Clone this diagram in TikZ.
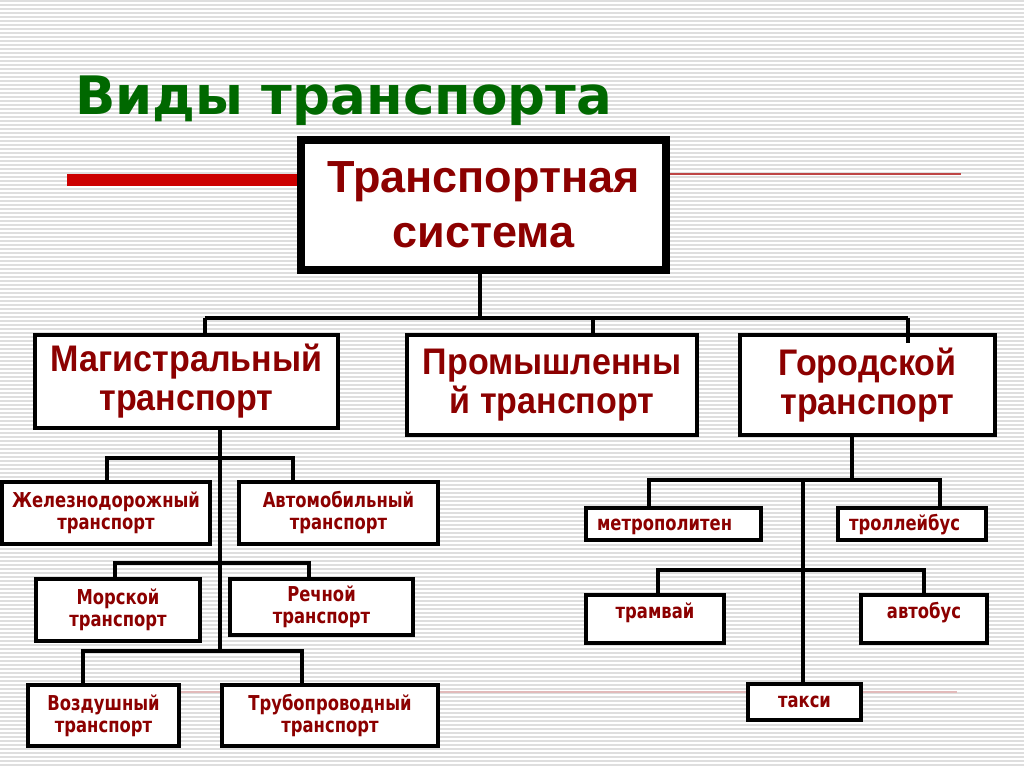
\documentclass[tikz,border=0pt]{standalone}
\usepackage{fontspec}
\setmainfont{Liberation Sans}
\newfontfamily\kindfamily[FakeStretch=0.92]{Liberation Sans}
\newfontfamily\titlefont{DejaVu Sans}
\newfontfamily\boxfamily[FakeStretch=0.8]{DejaVu Sans}

\definecolor{txtred}{RGB}{140,0,0}
\definecolor{ttlgreen}{RGB}{0,104,0}
\definecolor{stripe}{RGB}{222,222,222}
\definecolor{accentred}{RGB}{204,0,0}
\definecolor{thinred}{RGB}{190,70,70}
\definecolor{paleline}{RGB}{226,186,186}

\tikzset{
  sysbox/.style={draw, line width=8pt, fill=white, inner sep=0pt, align=center, text=txtred,
    font=\bfseries\fontsize{45}{55}\selectfont},
  kindbox/.style={draw, line width=4.5pt, fill=white, inner sep=0pt, align=center, text=txtred,
    font=\kindfamily\bfseries\fontsize{37}{39}\selectfont},
  subbox/.style={draw, line width=4pt, fill=white, inner sep=0pt, align=center, text=txtred,
    font=\boxfamily\bfseries\fontsize{20.5}{22}\selectfont},
  link/.style={line width=3.5pt}
}

\begin{document}
\begin{tikzpicture}[x=1pt,y=-1pt,line join=miter]
  \useasboundingbox (0,0) rectangle (1024,767);
  % background stripes
  \fill[white] (0,0) rectangle (1024,767);
  \foreach \yy in {1,5,...,765}
    \draw[stripe, line width=2pt] (0,\yy) -- (1024,\yy);

  % title
  \node[anchor=base west, inner sep=0pt, text=ttlgreen,
    font=\titlefont\bfseries\fontsize{53}{60}\selectfont] (title) at (75,115) {Виды транспорта};

  % decorative lines
  \coordinate (redL) at (67,180);
  \coordinate (thinR) at (961,174);
  \coordinate (paleL) at (60,692);
  \coordinate (paleR) at (957,692);
  \draw[paleline, line width=1.5pt] (paleL) -- (paleR);

  % boxes
  \node[sysbox, minimum width=365pt, minimum height=130pt] (sys) at (483.5,205) {Транспортная\\система};
  \draw[accentred, line width=12pt] (redL) -- (redL -| sys.west);
  \draw[thinred, line width=1.5pt] (thinR -| sys.east) -- (thinR);

  \node[kindbox, minimum width=303pt, minimum height=93pt] (mag) at (186.5,381.5) {Магистральный\\транспорт};
  \node[kindbox, minimum width=290pt, minimum height=100pt] (prom) at (552,385) {Промышленны\\й транспорт};
  \node[kindbox, minimum width=255pt, minimum height=100pt] (gor) at (867.5,385) {Городской\\транспорт};

  \node[subbox, minimum width=208pt, minimum height=62pt] (rail) at (106,513) {Железнодорожный\\транспорт};
  \node[subbox, minimum width=199pt, minimum height=62pt] (auto) at (338.5,513) {Автомобильный\\транспорт};
  \node[subbox, minimum width=164pt, minimum height=62pt] (sea) at (118,610) {Морской\\транспорт};
  \node[subbox, minimum width=183pt, minimum height=56pt] (river) at (321.5,607) {Речной\\транспорт};
  \node[subbox, minimum width=151pt, minimum height=61pt] (air) at (103.5,715.5) {Воздушный\\транспорт};
  \node[subbox, minimum width=216pt, minimum height=61pt] (pipe) at (330,715.5) {Трубопроводный\\транспорт};

  \node[subbox, inner xsep=11pt, text width=153pt, align=left, text height=22pt, text depth=10pt] (metro) at (673.5,524) {метрополитен};
  \node[subbox, inner xsep=11pt, text width=126pt, align=left, text height=22pt, text depth=10pt] (trolley) at (912,524) {троллейбус};
  \node[subbox, minimum width=138pt, text height=23pt, text depth=25pt] (tram) at (655,619) {трамвай};
  \node[subbox, minimum width=126pt, text height=23pt, text depth=25pt] (bus) at (924,619) {автобус};
  \node[subbox, minimum width=113pt, minimum height=36pt] (taxi) at (804.5,702) {такси};

  % first level
  \coordinate (b0) at (480,318);
  \coordinate (b0l) at (205,318);
  \coordinate (b0m) at (593,318);
  \coordinate (b0r) at (908,318);
  \draw[link] (sys.south -| b0) -- (b0);
  \draw[link] (b0l) -- (b0r);
  \draw[link] (b0l) -- (mag.north -| b0l);
  \draw[link] (b0m) -- (prom.north -| b0m);
  \draw[link] (b0r) -- ([yshift=-10pt]gor.north -| b0r);

  % trunk transport
  \coordinate (m0) at (220,651);
  \coordinate (m1l) at (107,458);
  \coordinate (m1r) at (293,458);
  \coordinate (m2l) at (115,563);
  \coordinate (m2r) at (309,563);
  \coordinate (m3l) at (83,651);
  \coordinate (m3r) at (302,651);
  \draw[link] (mag.south -| m0) -- (m0);
  \draw[link] (rail.north -| m1l) -- (m1l) -- (m1r) -- (auto.north -| m1r);
  \draw[link] (sea.north -| m2l) -- (m2l) -- (m2r) -- (river.north -| m2r);
  \draw[link] (air.north -| m3l) -- (m3l) -- (m3r) -- (pipe.north -| m3r);

  % city transport
  \coordinate (g0) at (852,480);
  \coordinate (g1l) at (649,480);
  \coordinate (g1r) at (940,480);
  \coordinate (gt) at (803,480);
  \coordinate (g2l) at (658,570);
  \coordinate (g2r) at (924,570);
  \draw[link] (gor.south -| g0) -- (g0);
  \draw[link] (metro.north -| g1l) -- (g1l) -- (g1r) -- (trolley.north -| g1r);
  \draw[link] (gt) -- (taxi.north -| gt);
  \draw[link] (tram.north -| g2l) -- (g2l) -- (g2r) -- (bus.north -| g2r);
\end{tikzpicture}
\end{document}
